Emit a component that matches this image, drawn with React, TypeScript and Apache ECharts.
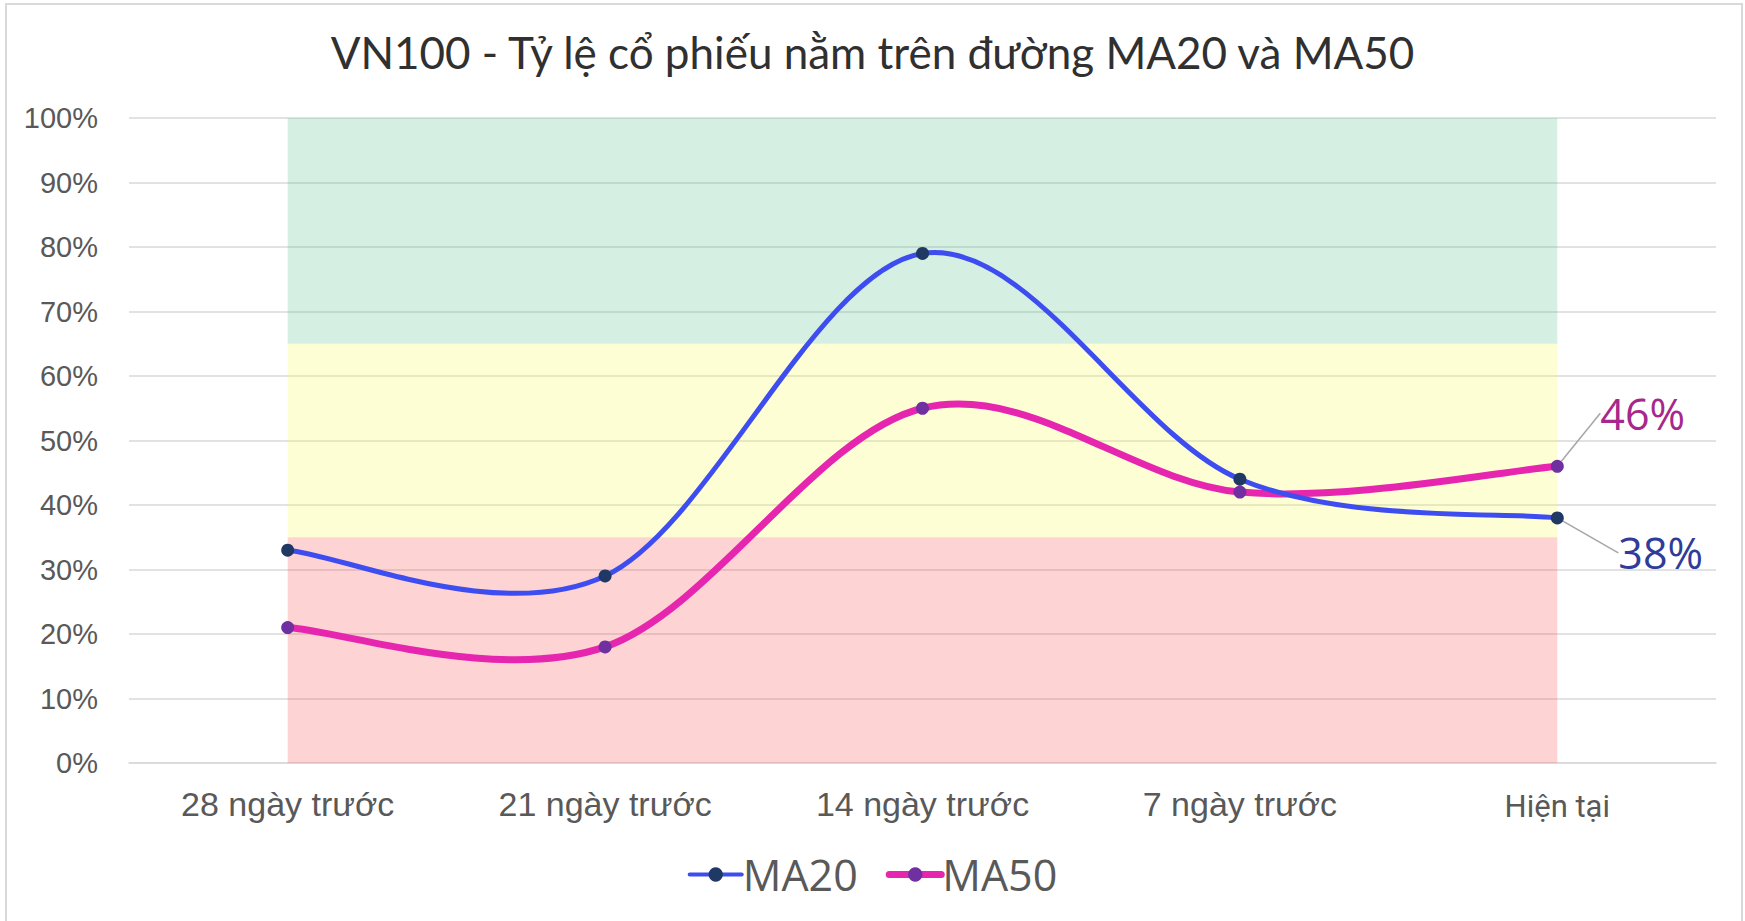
import React, { useEffect, useRef } from "react";
import * as echarts from "echarts";

const categories = ["28 ngày trước", "21 ngày trước", "14 ngày trước", "7 ngày trước", "Hiện tại"];
const ma20 = [33, 29, 79, 44, 38];
const ma50 = [21, 18, 55, 42, 46];
const bandRed = [0, 35];
const bandYellow = [35, 65];
const bandGreen = [65, 100];
const titleText = "VN100 - Tỷ lệ cổ phiếu nằm trên đường MA20 và MA50";

const MA20_LINE = "#3D4DF0";
const MA50_LINE = "#E626AE";

function curveSeries(name: string, values: number[], color: string, width: number, z: number) {
  return {
    type: "custom",
    name: name + " curve",
    coordinateSystem: "cartesian2d",
    silent: true,
    z,
    data: values.map((v, i) => [i, v]),
    encode: { x: 0, y: 1 },
    renderItem: (params: any, api: any) => {
      if (params.dataIndex !== 0) return null;
      const n = params.dataInsideLength;
      const pts: number[][] = [];
      for (let i = 0; i < n; i++) pts.push(api.coord([api.value(0, i), api.value(1, i)]));
      let d = `M${pts[0][0]},${pts[0][1]}`;
      for (let i = 0; i < n - 1; i++) {
        const p0 = pts[Math.max(i - 1, 0)];
        const p1 = pts[i];
        const p2 = pts[i + 1];
        const p3 = pts[Math.min(i + 2, n - 1)];
        const c1 = [p1[0] + (p2[0] - p0[0]) / 6, p1[1] + (p2[1] - p0[1]) / 6];
        const c2 = [p2[0] - (p3[0] - p1[0]) / 6, p2[1] - (p3[1] - p1[1]) / 6];
        d += ` C${c1[0]},${c1[1]} ${c2[0]},${c2[1]} ${p2[0]},${p2[1]}`;
      }
      return {
        type: "path",
        shape: { pathData: d },
        style: { stroke: color, lineWidth: width, fill: "none", lineJoin: "round", lineCap: "round" },
      };
    },
  };
}

export default function App() {
  const ref = useRef<HTMLDivElement>(null);
  useEffect(() => {
    document.body.style.margin = "0";
    const chart = echarts.init(ref.current!, null, { renderer: "svg" });
    const lastIdx = categories.length - 1;
    const band = (r: number[], color: string) => [
      { xAxis: categories[0], yAxis: r[0], itemStyle: { color } },
      { xAxis: categories[lastIdx], yAxis: r[1] },
    ];
    chart.setOption({
      animation: false,
      backgroundColor: "#ffffff",
      title: {
        text: titleText,
        left: "center",
        top: 25,
        textStyle: { fontFamily: "Lato", fontSize: 44, fontWeight: "normal", color: "#303030" },
      },
      graphic: [
        {
          type: "rect",
          shape: { x: 6, y: 4, width: 1736, height: 940 },
          style: { fill: "none", stroke: "#D9D9D9", lineWidth: 2 },
          silent: true,
        },
      ],
      legend: {
        data: [
          { name: "MA20", lineStyle: { opacity: 1, width: 4, cap: "round" } },
          { name: "MA50", lineStyle: { opacity: 1, width: 7, cap: "round" } },
        ],
        left: "center",
        top: 848,
        itemWidth: 52,
        itemHeight: 18,
        itemGap: 28,
        textStyle: { fontFamily: "Open Sans", fontSize: 43, color: "#595959", padding: [0, 0, 0, -4] },
      },
      grid: { left: 129, right: 29, top: 118, bottom: 158 },
      xAxis: {
        type: "category",
        data: categories,
        boundaryGap: true,
        axisTick: { show: false },
        axisLine: { lineStyle: { color: "#D9D9D9", width: 1.5 } },
        axisLabel: {
          margin: 24,
          fontFamily: "Liberation Sans",
          fontSize: 34,
          color: "#595959",
          formatter: (v: string) => (v === categories[lastIdx] ? `{r|${v}}` : v),
          rich: { r: { fontFamily: "Roboto", fontSize: 31, color: "#595959", padding: [4, 0, 0, 0] } },
        },
      },
      yAxis: {
        type: "value",
        min: 0,
        max: 100,
        interval: 10,
        axisLabel: {
          formatter: "{value}%",
          margin: 31,
          fontFamily: "Liberation Sans",
          fontSize: 29,
          color: "#595959",
        },
        splitLine: { lineStyle: { color: "#D9D9D9", width: 1.5 } },
      },
      series: [
        {
          name: "bands",
          type: "line",
          data: [],
          silent: true,
          markArea: {
            silent: true,
            data: [
              band(bandRed, "rgba(247,86,86,0.26)"),
              band(bandYellow, "rgba(251,251,90,0.26)"),
              band(bandGreen, "rgba(93,197,143,0.26)"),
            ],
          },
        },
        curveSeries("MA50", ma50, MA50_LINE, 7, 3),
        curveSeries("MA20", ma20, MA20_LINE, 5, 4),
        {
          name: "MA20",
          type: "line",
          z: 6,
          data: ma20.map((v, i) => (i === lastIdx ? { value: v, label: { show: true } } : v)),
          symbol: "circle",
          symbolSize: 13,
          lineStyle: { color: MA20_LINE, width: 4, opacity: 0 },
          itemStyle: { color: "#1F3864" },
          label: {
            show: false,
            formatter: "{c}%",
            fontFamily: "Open Sans",
            fontSize: 43,
            color: "#2F3C99",
          },
          labelLine: { show: true, lineStyle: { color: "#A6A6A6", width: 1.5 } },
          labelLayout: (p: any) => {
            const cx = p.rect.x + p.rect.width / 2;
            const cy = p.rect.y + p.rect.height / 2;
            return {
              x: cx + 61,
              y: cy + 35,
              align: "left",
              verticalAlign: "middle",
              labelLinePoints: [
                [cx, cy],
                [cx + 43, cy + 37],
                [cx + 53, cy + 37],
              ],
            };
          },
        },
        {
          name: "MA50",
          type: "line",
          z: 5,
          data: ma50.map((v, i) => (i === lastIdx ? { value: v, label: { show: true } } : v)),
          symbol: "circle",
          symbolSize: 13,
          lineStyle: { color: MA50_LINE, width: 7, opacity: 0 },
          itemStyle: { color: "#7030A0" },
          label: {
            show: false,
            formatter: "{c}%",
            fontFamily: "Open Sans",
            fontSize: 43,
            color: "#A6288C",
          },
          labelLine: { show: true, lineStyle: { color: "#A6A6A6", width: 1.5 } },
          labelLayout: (p: any) => {
            const cx = p.rect.x + p.rect.width / 2;
            const cy = p.rect.y + p.rect.height / 2;
            return {
              x: cx + 43,
              y: cy - 53,
              align: "left",
              verticalAlign: "middle",
              labelLinePoints: [
                [cx, cy],
                [cx + 26, cy - 52],
                [cx + 35, cy - 52],
              ],
            };
          },
        },
      ],
    });
    return () => chart.dispose();
  }, []);
  return <div ref={ref} style={{ width: 1745, height: 921 }} />;
}
